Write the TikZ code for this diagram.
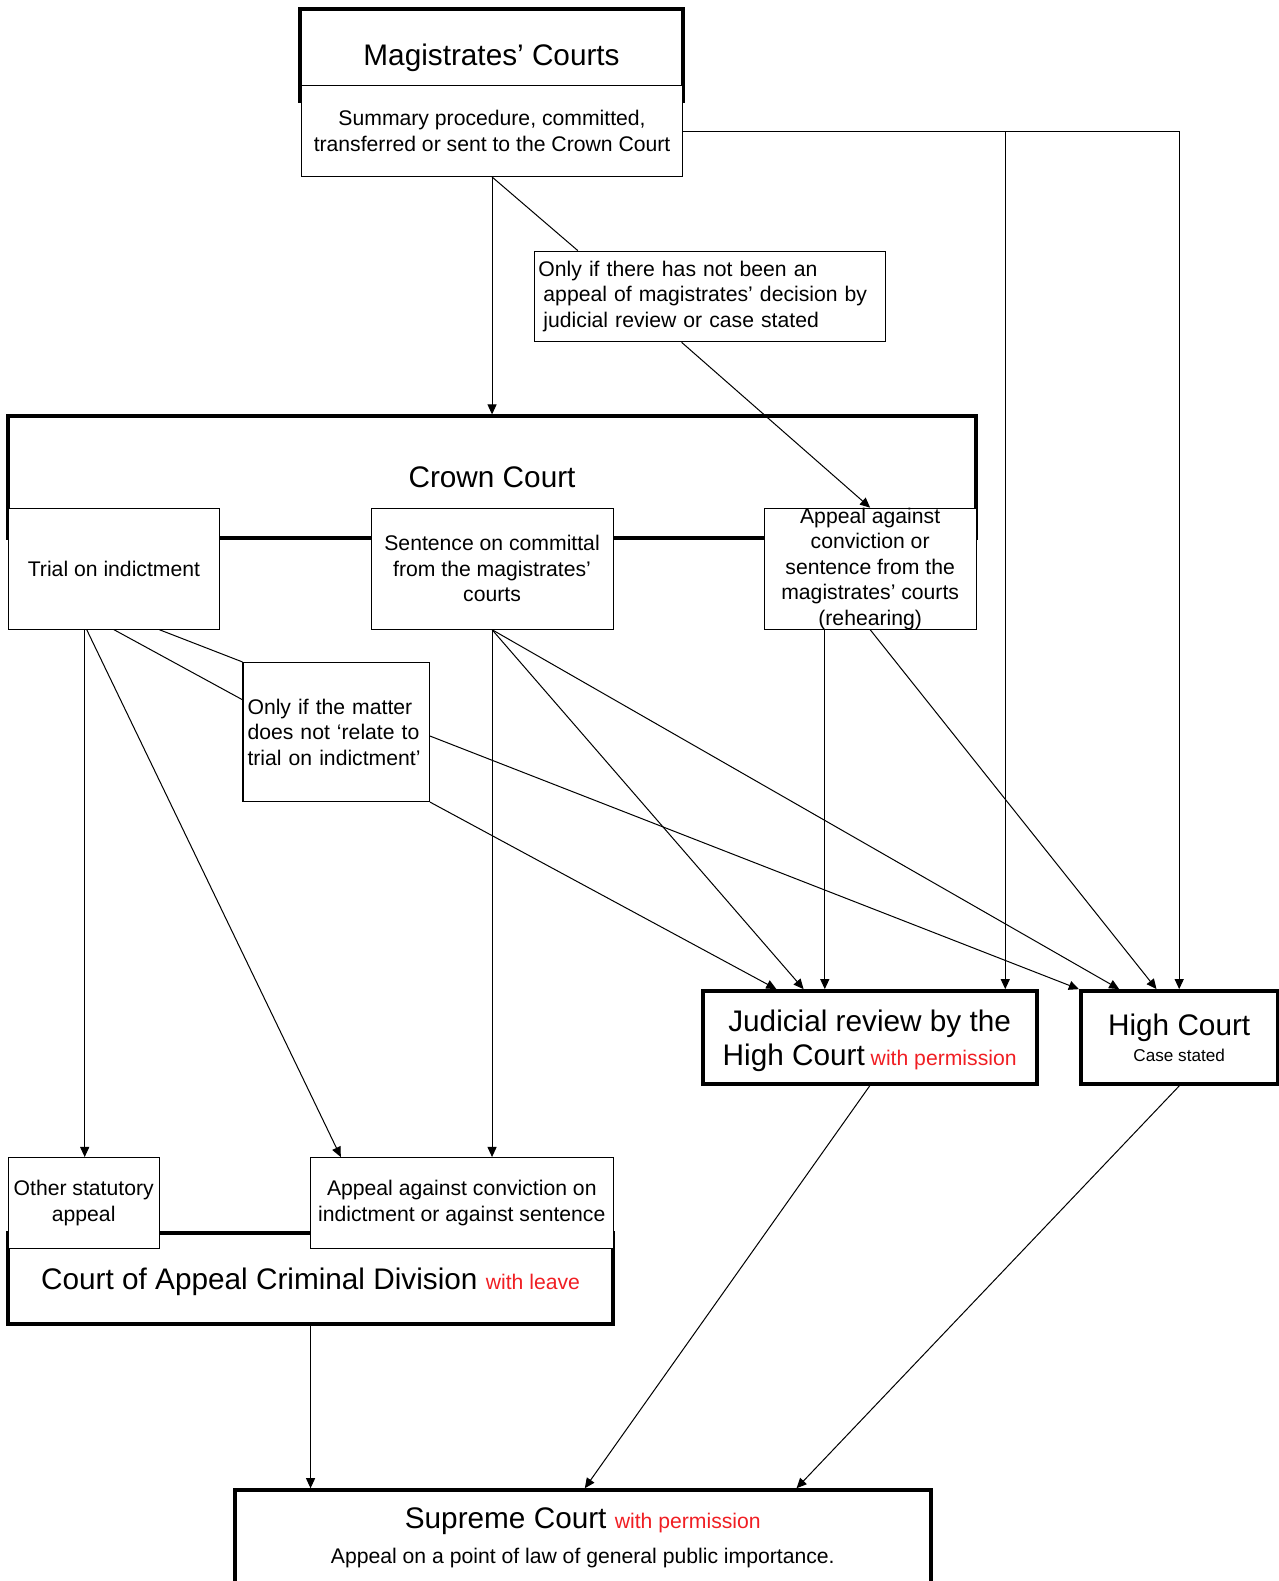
\documentclass[tikz,border=0pt]{standalone}
\usepackage{fontspec}
\setmainfont{Liberation Sans}
\usepackage{xcolor}
\usepackage{tikz}
\usetikzlibrary{shapes,arrows,arrows.meta,positioning}

\definecolor{permred}{RGB}{240,30,35}
\newcommand{\courtsize}{\fontsize{29.5}{34}\selectfont}
\newcommand{\notesize}{\fontsize{21}{25.3}\selectfont}
\newcommand{\casesize}{\fontsize{17}{20}\selectfont}

\begin{document}
\begin{tikzpicture}[x=1pt, y=-1pt]
\tikzstyle{court} = [rectangle, draw, line width=4pt, inner sep=0pt, anchor=north west, font=\courtsize, align=center, text depth=0pt]
\tikzstyle{part} = [rectangle, draw, fill=white, line width=1pt, inner sep=0pt, anchor=north west, font=\notesize, align=center]
\tikzstyle{note} = [part, align=left, inner xsep=4pt]
\tikzstyle{link} = [line width=1pt]
\tikzstyle{arrow} = [line width=1pt, ->, >={Triangle[length=10pt, width=9pt]}]

\useasboundingbox (0,0) rectangle (1268,1568);

\node [court, minimum width=379pt, minimum height=91pt] (mag) at (296,7) {Magistrates’ Courts};
\node [part, minimum width=378pt, minimum height=90pt] (magsub) at (298.5,84.5) {Summary procedure, committed,\\transferred or sent to the Crown Court};
\node [note, text width=340pt, minimum height=90pt] (jrnote) at (529.5,248.5) {Only if there has not been an\\\hspace*{5pt}appeal of magistrates’ decision by\\\hspace*{5pt}judicial review or case stated};

\node [court, minimum width=960pt, minimum height=121pt] (crown) at (6,411) {Crown Court};
\node [part, minimum width=210pt, minimum height=120pt] (trial) at (7.5,503.5) {Trial on indictment};
\node [part, minimum width=240pt, minimum height=120pt] (sentence) at (367.5,503.5) {Sentence on committal\\from the magistrates’\\courts};
\node [part, minimum width=210pt, minimum height=120pt, inner ysep=-2pt] (rehear) at (757.5,503.5) {Appeal against\\conviction or\\sentence from the\\magistrates’ courts\\(rehearing)};
\node [note, text width=176pt, inner xsep=4.5pt, minimum height=138pt] (matter) at (240.5,656.5) {Only if the matter\\does not ‘relate to\\trial on indictment’};

\node [court, minimum width=331pt, minimum height=92pt] (jr) at (695,981) {Judicial review by the\\High Court{\notesize\ \color{permred}with permission}};
\node [court, minimum width=195pt, minimum height=92pt] (hc) at (1070,981) {High Court\\[-8pt]{\casesize Case stated}};

\node [court, minimum width=600pt, minimum height=90pt] (coa) at (6,1221) {Court of Appeal Criminal Division {\notesize\color{permred}with leave}};
\node [part, minimum width=150pt, minimum height=90pt] (other) at (7.5,1147.5) {Other statutory\\appeal};
\node [part, minimum width=300pt, minimum height=90pt] (coapp) at (307.5,1147.5) {Appeal against conviction on\\indictment or against sentence};

\node [court, minimum width=690pt, minimum height=96pt, text depth=5.5pt] (sc) at (231,1476) {Supreme Court {\notesize\color{permred}with permission}\\[1pt]{\notesize Appeal on a point of law of general public importance.}};

\draw [arrow] (magsub.south) -- (crown.north);
\draw [link] (magsub.south) -- ([xshift=-131pt]jrnote.north);
\draw [arrow] ([xshift=-28pt]jrnote.south) -- (rehear.north);
\draw [arrow] (magsub.east) -| (hc.north);
\draw [arrow] (magsub.east) -| ([xshift=134.5pt]jr.north);

\draw [arrow] ([xshift=-29pt]trial.south) -- ([xshift=-29pt]trial.south |- other.north);
\draw [arrow] ([xshift=-27pt]trial.south) -- ([xshift=-120pt]coapp.north);
\draw [link] (trial.south) -- ([yshift=32pt]matter.west);
\draw [link] ([xshift=45pt]trial.south) -- (matter.north west);
\draw [arrow] ([yshift=-4pt]matter.east) -- (hc.north west);
\draw [arrow] (matter.south east) -- ([xshift=-92.5pt]jr.north);

\draw [arrow] (sentence.south) -- ([xshift=30pt]coapp.north);
\draw [arrow] (sentence.south) -- ([xshift=-65.5pt]jr.north);
\draw [arrow] (sentence.south) -- ([xshift=-59.5pt]hc.north);

\draw [arrow] ([xshift=-45pt]rehear.south) -- ([xshift=-45pt]rehear.south |- jr.north);
\draw [arrow] (rehear.south) -- ([xshift=-22.5pt]hc.north);

\draw [arrow] (coa.south) -- (coa.south |- sc.north);
\draw [arrow] (jr.south) -- ([xshift=2pt]sc.north);
\draw [arrow] (hc.south) -- ([xshift=212pt]sc.north);

\end{tikzpicture}
\end{document}
